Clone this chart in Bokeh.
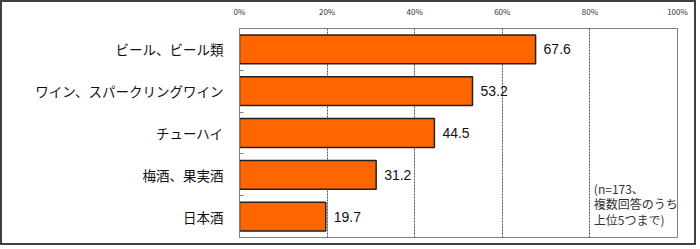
from bokeh.plotting import figure
from bokeh.models import Range1d, FixedTicker, ColumnDataSource
from bokeh.core.properties import value
from bokeh.embed import file_html
from bokeh.resources import INLINE

categories = ["ビール、ビール類", "ワイン、スパークリングワイン", "チューハイ", "梅酒、果実酒", "日本酒"]
values = [67.6, 53.2, 44.5, 31.2, 19.7]
x_ticks = [0, 20, 40, 60, 80, 100]
x_tick_labels = ["0%", "20%", "40%", "60%", "80%", "100%"]
note = "(n=173、\n複数回答のうち\n上位5つまで)"

JP = "Noto Sans CJK JP"

n = len(categories)
centers = [i + 0.5 for i in range(n)]
boundaries = [i for i in range(1, n)]

p = figure(width=696, height=245, output_backend="svg", toolbar_location=None,
           x_range=Range1d(0, 100), y_range=Range1d(n, 0),
           x_axis_location="above",
           min_border_left=237, min_border_right=21, min_border_top=25, min_border_bottom=10)
p.styles = {"border": "2px solid #404040"}
p.background_fill_color = "white"
p.border_fill_color = "white"
p.outline_line_color = "#808080"
p.outline_line_width = 1

src = ColumnDataSource(dict(y=centers, v=values, lbl=[f"{v:.1f}" for v in values]))
p.hbar(y="y", left=0, right="v", height=0.69, source=src,
       fill_color="#FF6600", line_color="#222222", line_width=1.5)
p.text(x="v", y="y", text="lbl", source=src, x_offset=8, text_baseline="middle",
       text_font=value("Liberation Sans"), text_font_size="14px", text_color="#111111")

# note text
p.text(x=[80.9], y=[3.62], text=[note], text_baseline="top", text_align="left",
       text_font=value(JP), text_font_size="12px", text_color="#333333",
       text_line_height=0.92)

# x axis (top)
xa = p.xaxis[0]
xa.ticker = FixedTicker(ticks=x_ticks)
xa.major_label_overrides = {t: l for t, l in zip(x_ticks, x_tick_labels)}
xa.major_label_text_font = JP
xa.major_label_text_font_size = "8px"
xa.major_label_text_color = "#333333"
xa.major_tick_line_color = None
xa.minor_tick_line_color = None
xa.axis_line_color = "#808080"
xa.major_label_standoff = 6

# y axis
ya = p.yaxis[0]
ya.ticker = FixedTicker(ticks=centers, minor_ticks=boundaries)
ya.major_label_overrides = {c: cat for c, cat in zip(centers, categories)}
ya.major_label_text_font = JP
ya.major_label_text_font_size = "13.5px"
ya.major_label_text_color = "#111111"
ya.major_tick_line_color = None
ya.minor_tick_in = 4
ya.minor_tick_out = 0
ya.minor_tick_line_color = "#808080"
ya.axis_line_color = "#808080"
ya.major_label_standoff = 10

p.ygrid.visible = False
p.xgrid.ticker = FixedTicker(ticks=[20, 40, 60, 80])
p.xgrid.grid_line_color = "#555555"
p.xgrid.grid_line_dash = "2 1"
p.xgrid.grid_line_width = 1

open("out.html", "w").write(file_html(p, INLINE))
